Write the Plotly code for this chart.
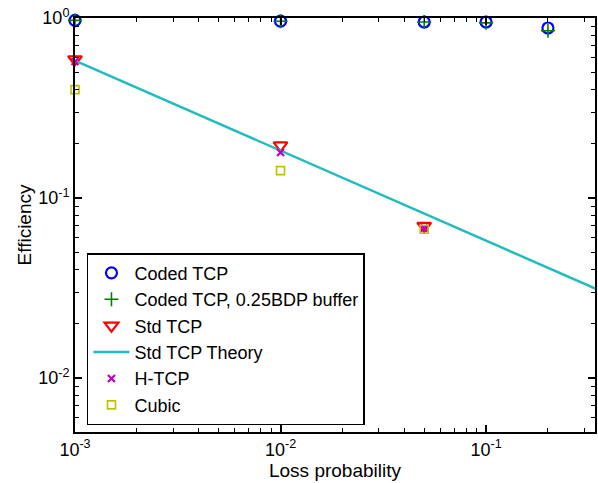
import plotly.graph_objects as go

# data
loss_coded = [0.001, 0.01, 0.05, 0.1, 0.2]
eff_coded = [0.97, 0.96, 0.95, 0.95, 0.88]
eff_coded_buf = [0.97, 0.96, 0.95, 0.94, 0.85]
loss_std = [0.001, 0.01, 0.05]
eff_std = [0.59, 0.196, 0.070]
eff_htcp = [0.573, 0.179, 0.068]
eff_cubic = [0.40, 0.142, 0.067]
loss_theory = [0.001, 0.34]
eff_theory = [0.58, 0.0314]

xtick_vals = [0.001, 0.01, 0.1]
xtick_text = ["10<sup>-3</sup>", "10<sup>-2</sup>", "10<sup>-1</sup>"]
ytick_vals = [0.01, 0.1, 1]
ytick_text = ["10<sup>-2</sup>", "10<sup>-1</sup>", "10<sup>0</sup>"]

xminor = [m * d for d in [0.001, 0.01, 0.1] for m in range(2, 10)]
yminor = [m * d for d in [0.001, 0.01, 0.1] for m in range(2, 10)]

fig = go.Figure()
fig.add_trace(go.Scatter(x=loss_coded, y=eff_coded, mode="markers", name="Coded TCP",
                         marker=dict(symbol="circle-open", size=11, color="#0000ff", line=dict(width=2.2, color="#0000ff")),
                         cliponaxis=False))
fig.add_trace(go.Scatter(x=loss_coded, y=eff_coded_buf, mode="markers", name="Coded TCP, 0.25BDP buffer",
                         marker=dict(symbol="cross-thin-open", size=10, color="#008000", line=dict(width=1.6, color="#008000")),
                         cliponaxis=False))
fig.add_trace(go.Scatter(x=loss_std, y=eff_std, mode="markers", name="Std TCP",
                         marker=dict(symbol="triangle-down-open", size=12, color="#ff0000", line=dict(width=2.2, color="#ff0000")),
                         cliponaxis=False))
fig.add_trace(go.Scatter(x=loss_theory, y=eff_theory, mode="lines", name="Std TCP Theory",
                         line=dict(color="#22bbbf", width=2.5), cliponaxis=False))
fig.add_trace(go.Scatter(x=loss_std, y=eff_htcp, mode="markers", name="H-TCP",
                         marker=dict(symbol="x-thin-open", size=7, color="#c000c0", line=dict(width=2.2, color="#c000c0")),
                         cliponaxis=False))
fig.add_trace(go.Scatter(x=loss_std, y=eff_cubic, mode="markers", name="Cubic",
                         marker=dict(symbol="square-open", size=8, color="#c0c000", line=dict(width=1.6, color="#c0c000")),
                         cliponaxis=False))

font = "Liberation Sans, Arial, Helvetica, sans-serif"
axis_common = dict(type="log", showgrid=False, zeroline=False, showline=True, linecolor="black", linewidth=2,
                   mirror="ticks", ticks="inside", ticklen=7, tickwidth=1.5, tickcolor="black",
                   tickfont=dict(size=18, color="black", family=font))
fig.update_xaxes(range=[-3, -0.47], tickvals=xtick_vals, ticktext=xtick_text,
                 minor=dict(tickvals=xminor, ticks="inside", ticklen=4, tickwidth=1.2, tickcolor="black"),
                 title=dict(text="Loss probability", font=dict(size=19, color="black", family=font), standoff=4),
                 **axis_common)
fig.update_yaxes(range=[-2.30, 0], tickvals=ytick_vals, ticktext=ytick_text,
                 minor=dict(tickvals=yminor, ticks="inside", ticklen=4, tickwidth=1.2, tickcolor="black"),
                 title=dict(text="Efficiency", font=dict(size=19, color="black", family=font), standoff=2),
                 **axis_common)

fig.update_layout(
    width=598, height=483,
    margin=dict(l=75, r=1, t=18, b=51),
    plot_bgcolor="white", paper_bgcolor="white",
    font=dict(family=font, color="black"),
    legend=dict(x=0.023, y=0.432, xanchor="left", yanchor="top",
                bgcolor="white", bordercolor="black", borderwidth=1.5,
                font=dict(size=18, color="black", family=font),
                tracegroupgap=0, itemwidth=36),
)

fig.write_html("out.html", config={"displayModeBar": False},
               post_script="document.body.style.margin='0px';")
